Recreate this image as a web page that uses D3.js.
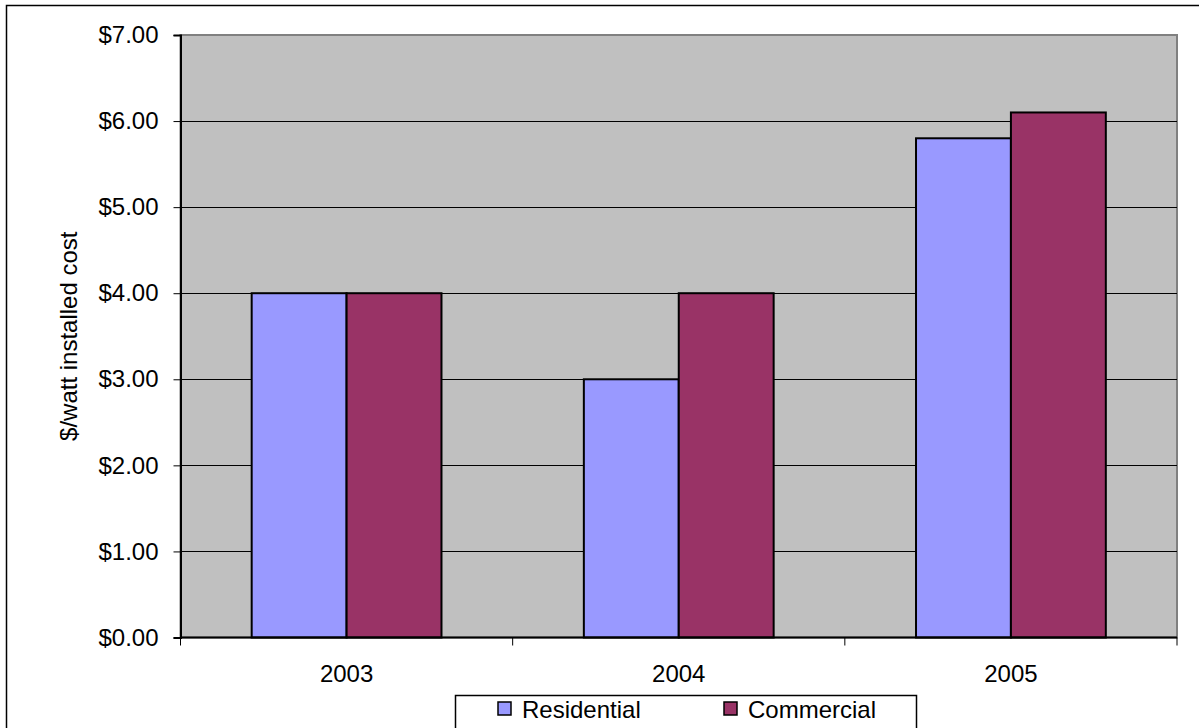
<!DOCTYPE html>
<html>
<head>
<meta charset="utf-8">
<script src="https://cdn.jsdelivr.net/npm/d3@7"></script>
<style>
  html, body { margin: 0; padding: 0; background: #fff; }
  svg { display: block; font-family: "Liberation Sans", Arial, sans-serif; }
</style>
</head>
<body>
<svg id="chart" width="1199" height="728"></svg>
<script>
// Installed PV cost per watt, by year and sector
const years = ["2003", "2004", "2005"];
const seriesNames = ["Residential", "Commercial"];
const residential = [4.0, 3.0, 5.8];
const commercial = [4.0, 4.0, 6.1];
const yTicks = [0, 1, 2, 3, 4, 5, 6, 7];
const colors = ["#9999ff", "#993366"];

const FONT = 24;
const svg = d3.select("#chart");
const W = 1199, H = 728;
const plot = { left: 180.5, right: 1177, top: 35, bottom: 637.5 };

// outer chart frame
svg.append("rect")
  .attr("x", 6.5).attr("y", 5.5)
  .attr("width", W + 10).attr("height", H + 10)
  .attr("fill", "#fff").attr("stroke", "#000").attr("stroke-width", 1.5);

const x = d3.scaleBand().domain(years).range([plot.left, plot.right]).padding(0);
const inner = d3.scaleBand().domain(seriesNames)
  .range([0, x.bandwidth()]).paddingInner(0).paddingOuter(0.75);
const y = d3.scaleLinear().domain([0, 7]).range([plot.bottom, plot.top]);

// plot area
svg.append("rect")
  .attr("x", plot.left).attr("y", plot.top)
  .attr("width", plot.right - plot.left).attr("height", plot.bottom - plot.top)
  .attr("fill", "#c0c0c0").attr("stroke", "#808080").attr("stroke-width", 2);

// gridlines
svg.append("g").selectAll("line").data(yTicks.filter(d => d > 0 && d < 7)).join("line")
  .attr("x1", plot.left).attr("x2", plot.right)
  .attr("y1", d => Math.round(y(d)) + 0.5).attr("y2", d => Math.round(y(d)) + 0.5)
  .attr("stroke", "#000").attr("stroke-width", 1);

// bars
const data = years.map((yr, i) => ({ year: yr, values: [residential[i], commercial[i]] }));
const groups = svg.append("g").selectAll("g").data(data).join("g")
  .attr("transform", d => `translate(${x(d.year)},0)`);
groups.selectAll("rect")
  .data(d => d.values.map((v, k) => ({ name: seriesNames[k], value: v, k })))
  .join("rect")
  .attr("x", d => inner(d.name))
  .attr("y", d => y(d.value))
  .attr("width", inner.bandwidth())
  .attr("height", d => y(0) - y(d.value))
  .attr("fill", d => colors[d.k])
  .attr("stroke", "#000").attr("stroke-width", 2);

// y axis
const yAxis = d3.axisLeft(y).tickValues(yTicks)
  .tickFormat(d => "$" + d3.format(".2f")(d))
  .tickSize(7).tickPadding(15);
const gy = svg.append("g").attr("transform", `translate(${plot.left},0)`).call(yAxis);
gy.select(".domain").attr("stroke", "#000").attr("stroke-width", 2);
gy.selectAll(".tick line").attr("stroke", "#000");
gy.selectAll("text").attr("font-size", FONT).attr("fill", "#000")
  .attr("font-family", "Liberation Sans, Arial, sans-serif");

// x axis: ticks at category boundaries, labels centered
const gx = svg.append("g").attr("transform", `translate(0,${plot.bottom})`);
gx.append("line").attr("x1", plot.left).attr("x2", plot.right)
  .attr("stroke", "#000").attr("stroke-width", 2);
const bounds = years.map(d => x(d)).concat([x(years[years.length - 1]) + x.bandwidth()]);
gx.selectAll("line.tk").data(bounds).join("line").attr("class", "tk")
  .attr("x1", d => d).attr("x2", d => d).attr("y1", 0).attr("y2", 8)
  .attr("stroke", "#000").attr("stroke-width", 1);
gx.selectAll("text").data(years).join("text")
  .attr("x", d => x(d) + x.bandwidth() / 2).attr("y", 44)
  .attr("text-anchor", "middle").attr("font-size", FONT).attr("fill", "#000")
  .text(d => d);

// y axis title
svg.append("text")
  .attr("transform", `translate(77,${(plot.top + plot.bottom) / 2}) rotate(-90)`)
  .attr("text-anchor", "middle").attr("font-size", FONT).attr("fill", "#000")
  .text("$/watt installed cost");

// legend
const leg = svg.append("g");
leg.append("rect").attr("x", 455.5).attr("y", 695.5).attr("width", 461).attr("height", 50)
  .attr("fill", "#fff").attr("stroke", "#000").attr("stroke-width", 1.5);
const legX = [498, 724];
seriesNames.forEach((name, k) => {
  leg.append("rect").attr("x", legX[k]).attr("y", 702).attr("width", 13).attr("height", 13)
    .attr("fill", colors[k]).attr("stroke", "#000").attr("stroke-width", 1.5);
  leg.append("text").attr("x", legX[k] + 24).attr("y", 718)
    .attr("font-size", FONT).attr("fill", "#000").text(name);
});
</script>
</body>
</html>
